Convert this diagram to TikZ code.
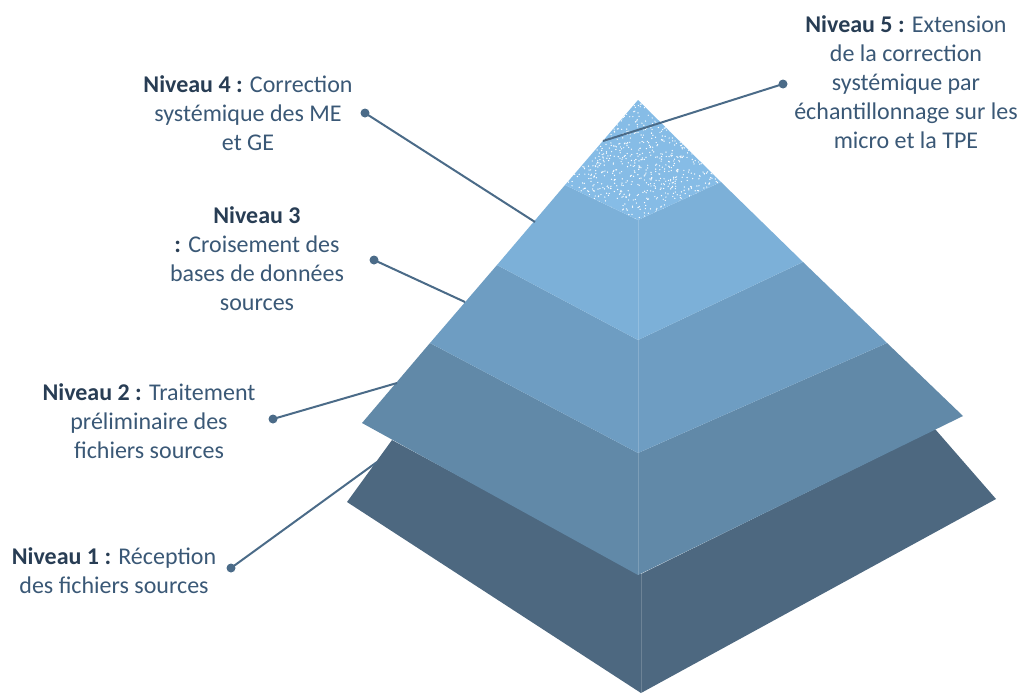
\documentclass[tikz,border=0pt]{standalone}
\usepackage{fontspec}
\setmainfont{Carlito}
\usepackage{tikz}
\usetikzlibrary{shapes}
\definecolor{txt}{HTML}{3A5876}
\definecolor{txtb}{HTML}{283D54}
\definecolor{wire}{HTML}{4B6B88}
\definecolor{lvone}{HTML}{4D6880}
\definecolor{lvtwo}{HTML}{6189A8}
\definecolor{lvthree}{HTML}{6E9DC2}
\definecolor{lvfour}{HTML}{7CB0D8}
\definecolor{lvfive}{HTML}{86BCE6}
\newcommand\nv[1]{\textcolor{txtb}{\textbf{#1}}}

\begin{document}
\begin{tikzpicture}[x=1pt,y=-1pt]
\useasboundingbox (0,0) rectangle (1022,694);

\tikzstyle{niv}=[
	font=\fontsize{24}{29}\selectfont,
	text=txt,
	align=center,
	inner sep=0pt
]
\tikzstyle{dot}=[circle,fill=wire,inner sep=0pt,minimum size=9pt]
\tikzstyle{wire}=[draw=wire,line width=2pt]
\tikzstyle{centre}=[draw=white,opacity=0.18,line width=1pt]

%% CORNERS
\coordinate (A)   at (638,100);
\coordinate (L5)  at (565,185);
\coordinate (C5)  at (638,220);
\coordinate (R5)  at (721,182);
\coordinate (L4)  at (497,265);
\coordinate (C4)  at (638,340);
\coordinate (R4)  at (803,262);
\coordinate (L3)  at (430,343);
\coordinate (C3)  at (638,453);
\coordinate (R3)  at (887,343);
\coordinate (L2)  at (362,423);
\coordinate (C2)  at (638,575);
\coordinate (R2)  at (963,416);
\coordinate (L1t) at (392,440);
\coordinate (C1t) at (641,574);
\coordinate (R1t) at (935,429);
\coordinate (L1)  at (347,502);
\coordinate (C1)  at (641,693);
\coordinate (R1)  at (996,499);

%% LAYERS
\fill[lvone]   (L1t) -- (C1t) -- (R1t) -- (R1) -- (C1) -- (L1) -- cycle;
\fill[lvtwo]   (L3) -- (C3) -- (R3) -- (R2) -- (C2) -- (L2) -- cycle;
\fill[lvthree] (L4) -- (C4) -- (R4) -- (R3) -- (C3) -- (L3) -- cycle;
\fill[lvfour]  (L5) -- (C5) -- (R5) -- (R4) -- (C4) -- (L4) -- cycle;
\fill[lvfive]  (A) -- (R5) -- (C5) -- (L5) -- cycle;
\begin{scope}
\clip (A) -- (R5) -- (C5) -- (L5) -- cycle;
\pgfmathsetseed{7}
\foreach \i in {1,...,1100}
	\fill[white] ({643+80*rand},{160+60*rand}) circle (0.7pt);
\end{scope}
\path[centre] (C5) -- (C2);
\path[centre] (C1t) -- (C1);

%% TEXTS
\node (n5) [niv] at (906,82) {\nv{Niveau 5 :} Extension\\ de la correction\\ systémique par\\ échantillonnage sur les\\ micro et la TPE};
\node (n4) [niv] at (248,113) {\nv{Niveau 4 :} Correction\\ systémique des ME\\ et GE};
\node (n3) [niv] at (257,259) {\nv{Niveau 3}\\ \nv{:} Croisement des\\ bases de données\\ sources};
\node (n2) [niv] at (149,421) {\nv{Niveau 2 :} Traitement\\ préliminaire des\\ fichiers sources};
\node (n1) [niv] at (114,571) {\nv{Niveau 1 :} Réception\\ des fichiers sources};

%% CONNECTORS
\node (d5) [dot] at (783,84) {};
\node (d4) [dot] at (365,113) {};
\node (d3) [dot] at (374,260) {};
\node (d2) [dot] at (273,419) {};
\node (d1) [dot] at (231,568) {};
\coordinate (e5) at (603,141);
\coordinate (e4) at (535,222);
\coordinate (e3) at (465,302);
\coordinate (e2) at (397,383);
\coordinate (e1) at (377,462);
\draw[wire] (d5.center) -- (e5);
\draw[wire] (d4.center) -- (e4);
\draw[wire] (d3.center) -- (e3);
\draw[wire] (d2.center) -- (e2);
\draw[wire] (d1.center) -- (e1);

\end{tikzpicture}
\end{document}
